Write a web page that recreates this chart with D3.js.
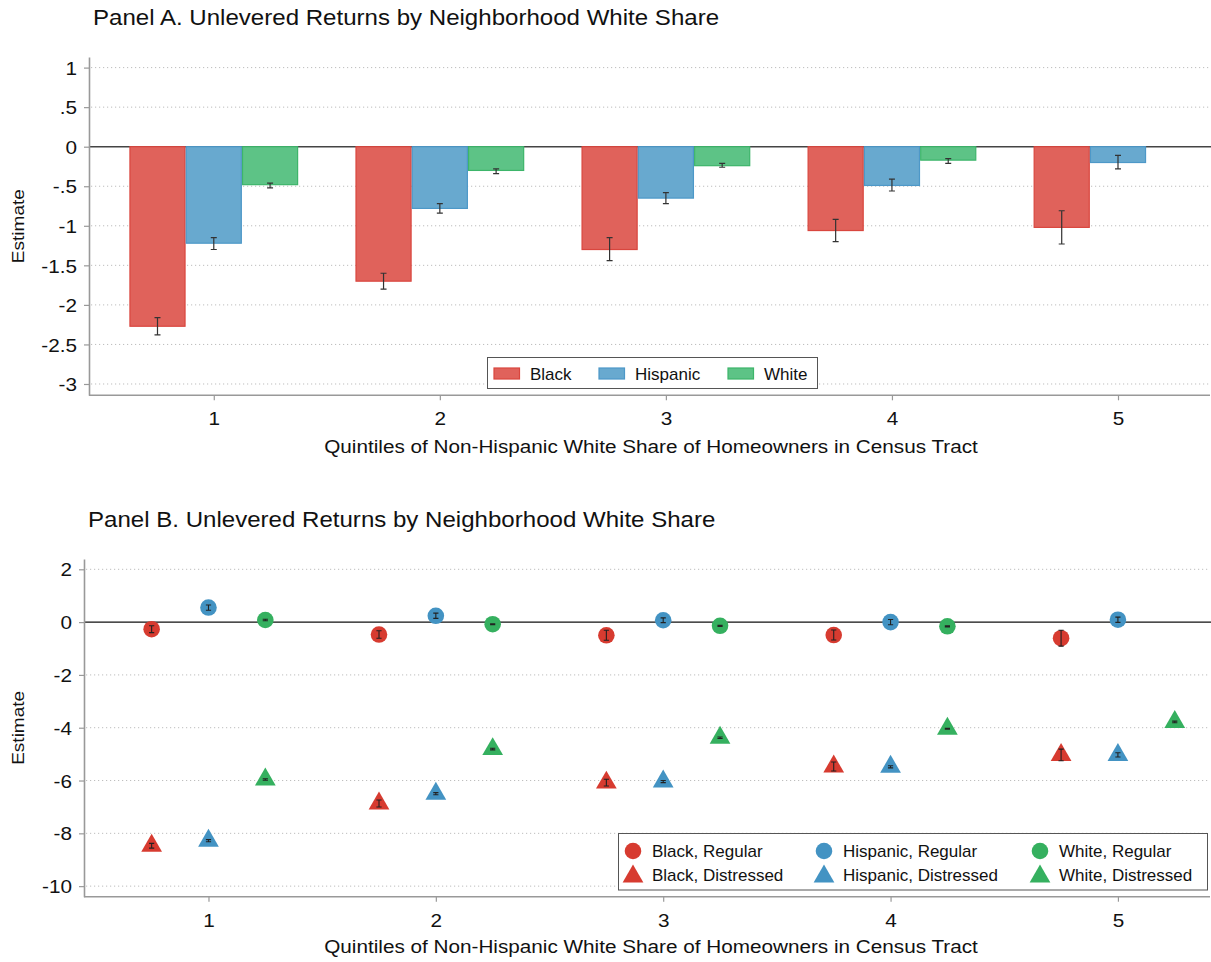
<!DOCTYPE html>
<html>
<head>
<meta charset="utf-8">
<script src="https://cdn.jsdelivr.net/npm/d3@7"></script>
<style>
  html, body { margin: 0; padding: 0; background: #fff; }
  svg { display: block; }
</style>
</head>
<body>
<div id="chart"></div>
<script>
// ---------------- DATA ----------------
const categories = [1, 2, 3, 4, 5];

// Panel A: bar estimates and 95% CI bounds
const barBlack   = [-2.27, -1.70, -1.30, -1.06, -1.02];
const barBlackLo = [-2.38, -1.80, -1.44, -1.20, -1.23];
const barBlackHi = [-2.16, -1.60, -1.15, -0.92, -0.81];
const barHisp    = [-1.22, -0.78, -0.65, -0.49, -0.20];
const barHispLo  = [-1.30, -0.84, -0.72, -0.56, -0.28];
const barHispHi  = [-1.15, -0.72, -0.58, -0.41, -0.11];
const barWhite   = [-0.48, -0.30, -0.24, -0.17, null];
const barWhiteLo = [-0.52, -0.34, -0.26, -0.21, null];
const barWhiteHi = [-0.46, -0.28, -0.21, -0.15, null];

const yTicksA = [1, 0.5, 0, -0.5, -1, -1.5, -2, -2.5, -3];
const yTickLabelsA = ["1", ".5", "0", "-.5", "-1", "-1.5", "-2", "-2.5", "-3"];
const legendA = ["Black", "Hispanic", "White"];

// Panel B: point estimates and CI half-widths
const blackReg     = [-0.27, -0.47, -0.50, -0.49, -0.61];
const blackRegErr  = [0.13, 0.14, 0.19, 0.19, 0.30];
const hispReg      = [0.55, 0.24, 0.07, 0.00, 0.09];
const hispRegErr   = [0.10, 0.10, 0.09, 0.10, 0.10];
const whiteReg     = [0.08, -0.08, -0.14, -0.16, null];
const whiteRegErr  = [0.03, 0.02, 0.02, 0.02, null];
const blackDist    = [-8.47, -6.87, -6.08, -5.47, -5.03];
const blackDistErr = [0.09, 0.13, 0.13, 0.17, 0.22];
const hispDist     = [-8.28, -6.50, -6.04, -5.48, -5.03];
const hispDistErr  = [0.04, 0.04, 0.04, 0.04, 0.08];
const whiteDist    = [-5.96, -4.81, -4.38, -4.04, -3.78];
const whiteDistErr = [0.03, 0.03, 0.03, 0.02, 0.03];

const yTicksB = [2, 0, -2, -4, -6, -8, -10];
const yTickLabelsB = ["2", "0", "-2", "-4", "-6", "-8", "-10"];
const legendB = ["Black, Regular", "Hispanic, Regular", "White, Regular",
                 "Black, Distressed", "Hispanic, Distressed", "White, Distressed"];

const titleA = "Panel A. Unlevered Returns by Neighborhood White Share";
const titleB = "Panel B. Unlevered Returns by Neighborhood White Share";
const xTitle = "Quintiles of Non-Hispanic White Share of Homeowners in Census Tract";
const yTitle = "Estimate";

// ---------------- STYLE ----------------
const W = 1211, H = 962;
const FONT = "'Liberation Sans', Arial, Helvetica, sans-serif";
const S = 1.12; // horizontal text stretch
const barFill   = ["#e0625b", "#68a9cf", "#5dc386"];
const barStroke = ["#d9463e", "#4d98c8", "#3db56a"];
const mk        = ["#d73b30", "#4393c3", "#35b05f"];
const axisCol = "#999";
const gridCol = "#bdbdbd";

const svg = d3.select("#chart").append("svg")
  .attr("width", W).attr("height", H)
  .style("font-family", FONT);

function txt(x, y, str, size, anchor, stretch, rot) {
  const t = svg.append("text")
    .attr("transform", `translate(${x},${y})` + (rot ? ` rotate(${rot})` : "") + ` scale(${stretch},1)`)
    .attr("text-anchor", anchor)
    .attr("font-size", size)
    .attr("fill", "#111")
    .text(str);
  return t;
}

function axes(x, y, yTicks, yLabels, plotL, plotR, plotT, plotB, zeroCol) {
  // grid
  svg.append("g").selectAll("line").data(yTicks.filter(d => d !== 0)).join("line")
    .attr("x1", plotL + 2).attr("x2", plotR)
    .attr("y1", d => y(d)).attr("y2", d => y(d))
    .attr("stroke", gridCol).attr("stroke-width", 1)
    .attr("stroke-dasharray", "1.2,2.8");
  // zero line
  svg.append("line")
    .attr("x1", plotL).attr("x2", W).attr("y1", y(0)).attr("y2", y(0))
    .attr("stroke", zeroCol).attr("stroke-width", 1.4);

  const gy = svg.append("g").attr("transform", `translate(${plotL},0)`)
    .call(d3.axisLeft(y).tickValues(yTicks).tickFormat((d, i) => yLabels[i])
      .tickSize(5).tickSizeOuter(0).tickPadding(7));
  gy.select(".domain").attr("stroke", axisCol).attr("stroke-width", 1.6);
  gy.selectAll(".tick line").attr("stroke", axisCol).attr("stroke-width", 1.2);
  gy.selectAll(".tick text")
    .attr("x", -12 / S).attr("dy", "0.36em")
    .attr("transform", `scale(${S},1)`)
    .attr("font-size", 18.5).attr("font-family", FONT).attr("fill", "#111");

  const gx = svg.append("g").attr("transform", `translate(0,${plotB})`)
    .call(d3.axisBottom(x).tickValues(categories).tickFormat(d => String(d))
      .tickSize(5).tickSizeOuter(0));
  gx.select(".domain").attr("stroke", axisCol).attr("stroke-width", 1.6)
    .attr("d", `M${plotL},0H${plotR}`);
  gx.selectAll(".tick line").attr("stroke", axisCol).attr("stroke-width", 1.2);
  gx.selectAll(".tick text")
    .attr("y", 30).attr("dy", 0)
    .attr("transform", `scale(${S},1)`)
    .attr("font-size", 18.5).attr("font-family", FONT).attr("fill", "#111");
}

// ---------------- PANEL A ----------------
{
  const L = 89, R = 1210, T = 57, B = 395.3;
  const x = d3.scaleLinear().domain([0.448, 5.407]).range([L, R]);
  const y = d3.scaleLinear().domain([-3.143, 1.134]).range([B, T]);
  axes(x, y, yTicksA, yTickLabelsA, L, R, T, B, "#444");

  const bw = 0.249;
  const series = [
    { v: barBlack, lo: barBlackLo, hi: barBlackHi, off: -1 },
    { v: barHisp,  lo: barHispLo,  hi: barHispHi,  off: 0 },
    { v: barWhite, lo: barWhiteLo, hi: barWhiteHi, off: 1 },
  ];
  series.forEach((s, si) => {
    const data = categories.map((c, i) => ({ c, v: s.v[i], lo: s.lo[i], hi: s.hi[i] }))
      .filter(d => d.v !== null);
    const g = svg.append("g");
    g.selectAll("rect").data(data).join("rect")
      .attr("x", d => x(d.c + s.off * bw - bw / 2) + 0.6)
      .attr("width", d => x(d.c + bw / 2) - x(d.c - bw / 2) - 1.2)
      .attr("y", d => y(0))
      .attr("height", d => y(d.v) - y(0))
      .attr("fill", barFill[si]).attr("stroke", barStroke[si]).attr("stroke-width", 1.2);
    const cap = 3;
    g.selectAll("path.err").data(data).join("path").attr("class", "err")
      .attr("d", d => {
        const cx = x(d.c + s.off * bw);
        return `M${cx},${y(d.lo)}V${y(d.hi)}M${cx - cap},${y(d.lo)}H${cx + cap}M${cx - cap},${y(d.hi)}H${cx + cap}`;
      })
      .attr("fill", "none").attr("stroke", "#333").attr("stroke-width", 1.2);
  });

  // legend
  svg.append("rect").attr("x", 487.5).attr("y", 357.5).attr("width", 330).attr("height", 31)
    .attr("fill", "#fff").attr("stroke", "#555").attr("stroke-width", 1);
  const lx = [494, 599, 728];
  legendA.forEach((name, i) => {
    svg.append("rect").attr("x", lx[i]).attr("y", 368).attr("width", 25.5).attr("height", 11)
      .attr("fill", barFill[i]).attr("stroke", barStroke[i]).attr("stroke-width", 1.2);
    txt(lx[i] + 36, 379.5, name, 17, "start", 1.0);
  });

  txt(93, 25, titleA, 21.5, "start", S);
  txt(651, 453, xTitle, 18.5, "middle", S);
  txt(24, (T + B) / 2, yTitle, 17, "middle", S, -90);
}

// ---------------- PANEL B ----------------
{
  const L = 84, R = 1210, T = 559, B = 896.7;
  const x = d3.scaleLinear().domain([0.4525, 5.405]).range([L, R]);
  const y = d3.scaleLinear().domain([-10.4, 2.39]).range([B, T]);
  axes(x, y, yTicksB, yTickLabelsB, L, R, T, B, "#111");

  const circle = d3.symbol().type(d3.symbolCircle).size(216);
  const tri = d3.symbol().type(d3.symbolTriangle).size(186);
  const series = [
    { v: blackReg,  e: blackRegErr,  off: -0.25, col: 0, sym: circle },
    { v: hispReg,   e: hispRegErr,   off: 0,     col: 1, sym: circle },
    { v: whiteReg,  e: whiteRegErr,  off: 0.25,  col: 2, sym: circle },
    { v: blackDist, e: blackDistErr, off: -0.25, col: 0, sym: tri },
    { v: hispDist,  e: hispDistErr,  off: 0,     col: 1, sym: tri },
    { v: whiteDist, e: whiteDistErr, off: 0.25,  col: 2, sym: tri },
  ];
  series.forEach(s => {
    const data = categories.map((c, i) => ({ c, v: s.v[i], e: s.e[i] })).filter(d => d.v !== null);
    const g = svg.append("g");
    g.selectAll("path.m").data(data).join("path").attr("class", "m")
      .attr("transform", d => `translate(${x(d.c + s.off)},${y(d.v)})`)
      .attr("d", s.sym())
      .attr("fill", mk[s.col]);
    const cap = 2.6;
    g.selectAll("path.err").data(data).join("path").attr("class", "err")
      .attr("d", d => {
        const cx = x(d.c + s.off), lo = y(d.v - d.e), hi = y(d.v + d.e);
        return `M${cx},${lo}V${hi}M${cx - cap},${lo}H${cx + cap}M${cx - cap},${hi}H${cx + cap}`;
      })
      .attr("fill", "none").attr("stroke", "#222").attr("stroke-width", 1.1);
  });

  // legend
  svg.append("rect").attr("x", 618.5).attr("y", 833.5).attr("width", 589).attr("height", 56.5)
    .attr("fill", "#fff").attr("stroke", "#555").attr("stroke-width", 1);
  const colX = [633, 824, 1040];
  const rowY = [851, 875];
  legendB.forEach((name, i) => {
    const c = i % 3, r = Math.floor(i / 3);
    svg.append("path")
      .attr("transform", `translate(${colX[c]},${rowY[r] + (r === 1 ? 1.5 : 0)})`)
      .attr("d", (r === 0 ? circle : tri)())
      .attr("fill", mk[c]);
    txt(colX[c] + 19, rowY[r] + 6.2, name, 17, "start", 1.0);
  });

  txt(88, 527, titleB, 21.5, "start", S);
  txt(651, 953, xTitle, 18.5, "middle", S);
  txt(24, (T + B) / 2, yTitle, 17, "middle", S, -90);
}
</script>
</body>
</html>
